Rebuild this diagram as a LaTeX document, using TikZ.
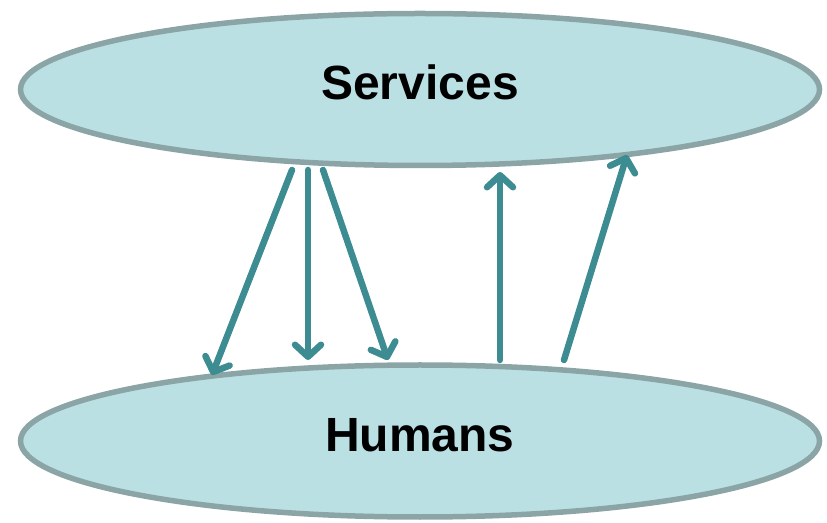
\documentclass[tikz,border=0pt]{standalone}
\usepackage{fontspec}
\setmainfont{Liberation Sans}
\usetikzlibrary{shapes.geometric,arrows.meta}
\definecolor{cloudfill}{HTML}{BAE0E4}
\definecolor{cloudline}{HTML}{8BA5A7}
\definecolor{flowcol}{HTML}{3C8C92}
\begin{document}
\begin{tikzpicture}[x=1pt,y=1pt]
  \tikzstyle{cloud}=[ellipse,draw=cloudline,fill=cloudfill,line width=5.5pt,minimum width=799pt,minimum height=152pt,text height=35pt,text depth=14pt,font=\fontsize{48}{50}\selectfont\bfseries]
  \tikzstyle{flow}=[draw=flowcol,line width=6.5pt,line cap=round,-{Straight Barb[length=12pt,width=26pt,line cap=round,line join=round]}]
  \useasboundingbox (0,0) rectangle (827,522);
  \node[cloud] (services) at (420,432.5) {Services};
  \node[cloud] (humans) at (420,81) {Humans};

  \draw[flow] ([xshift=-128pt,yshift=-80.5pt]services.center) -- ([xshift=-208pt,yshift=66pt]humans.center);
  \draw[flow] ([xshift=-112pt,yshift=-80.5pt]services.center) -- ([xshift=-112pt,yshift=81pt]humans.center);
  \draw[flow] ([xshift=-97pt,yshift=-80.5pt]services.center) -- ([xshift=-32pt,yshift=81pt]humans.center);

  \draw[flow] ([xshift=80pt,yshift=81pt]humans.center) -- ([xshift=80pt,yshift=-82.5pt]services.center);
  \draw[flow] ([xshift=144pt,yshift=81pt]humans.center) -- ([xshift=207pt,yshift=-65.5pt]services.center);
\end{tikzpicture}
\end{document}
